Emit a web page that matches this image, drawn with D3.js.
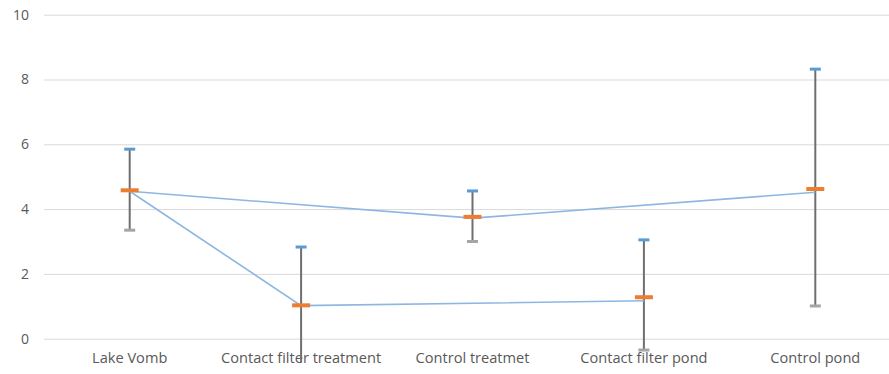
<!DOCTYPE html>
<html><head><meta charset="utf-8">
<script src="https://cdn.jsdelivr.net/npm/d3@7"></script>
<style>body{margin:0;background:#fff}svg{display:block}</style>
</head><body>
<svg id="c" width="889" height="374"></svg>
<script>
const categories = ["Lake Vomb","Contact filter treatment","Control treatmet","Contact filter pond","Control pond"];
const highValues = [5.85, 2.83, 4.56, 3.05, 8.32];
const lowValues = [3.35, -1.0, 3.0, -0.35, 1.01];
const meanValues = [4.58, 1.03, 3.76, 1.28, 4.62];
const lineA = [4.55, null, 3.72, null, 4.52];
const lineB = [4.55, 1.02, null, 1.17, null];
const yTicks = [0, 2, 4, 6, 8, 10];

const svg = d3.select("#c");
const x = d3.scaleBand().domain(categories).range([44, 901]);
const y = d3.scaleLinear().domain([0, 10]).range([338.7, 14.7]);
const cx = c => x(c) + x.bandwidth() / 2;
const font = "'Open Sans', Lato, sans-serif";

svg.append("defs").append("clipPath").attr("id","pc")
  .append("rect").attr("x",0).attr("y",0).attr("width",889).attr("height",362);

// grid
const yAxis = d3.axisLeft(y).tickValues(yTicks).tickSize(-(901-44)).tickPadding(15);
const ga = svg.append("g").attr("transform","translate(44,0)").call(yAxis);
ga.select(".domain").remove();
ga.selectAll(".tick line").attr("stroke","#d9d9d9").attr("stroke-width",1);
ga.selectAll(".tick text").attr("fill","#595959").style("font-family",font).style("font-size","14px");

// x labels
const xAxis = d3.axisBottom(x).tickSize(0).tickPadding(14);
const gx = svg.append("g").attr("transform","translate(0,338.7)").call(xAxis);
gx.select(".domain").remove();
gx.selectAll(".tick text").attr("fill","#595959").style("font-family",font).style("font-size","14.6px");

const plot = svg.append("g").attr("clip-path","url(#pc)");
const rows = categories.map((c,i)=>({c, hi:highValues[i], lo:lowValues[i], m:meanValues[i]}));

// whiskers
plot.selectAll(".wh").data(rows).join("line")
  .attr("x1",d=>cx(d.c)).attr("x2",d=>cx(d.c))
  .attr("y1",d=>y(d.hi)).attr("y2",d=>y(d.lo))
  .attr("stroke","#6f6f6f").attr("stroke-width",2);

// lines
const lg = d3.line().x(d=>cx(d.c)).y(d=>y(d.v));
[lineA, lineB].forEach(s=>{
  const pts = categories.map((c,i)=>({c, v:s[i]})).filter(d=>d.v!=null);
  plot.append("path").datum(pts).attr("d",lg).attr("fill","none")
    .attr("stroke","#8db6e2").attr("stroke-width",1.6);
});

// high ticks
plot.selectAll(".hi").data(rows).join("rect")
  .attr("x",d=>cx(d.c)-5.5).attr("y",d=>y(d.hi)-1.5).attr("width",11).attr("height",3)
  .attr("fill","#5b9bd5");
// low ticks
plot.selectAll(".lo").data(rows).join("rect")
  .attr("x",d=>cx(d.c)-5.5).attr("y",d=>y(d.lo)-1.5).attr("width",11).attr("height",3)
  .attr("fill","#a5a5a5");
// mean ticks
plot.selectAll(".mn").data(rows).join("rect")
  .attr("x",d=>cx(d.c)-9).attr("y",d=>y(d.m)-2).attr("width",18).attr("height",4)
  .attr("fill","#ed7d31");
</script>
</body></html>
